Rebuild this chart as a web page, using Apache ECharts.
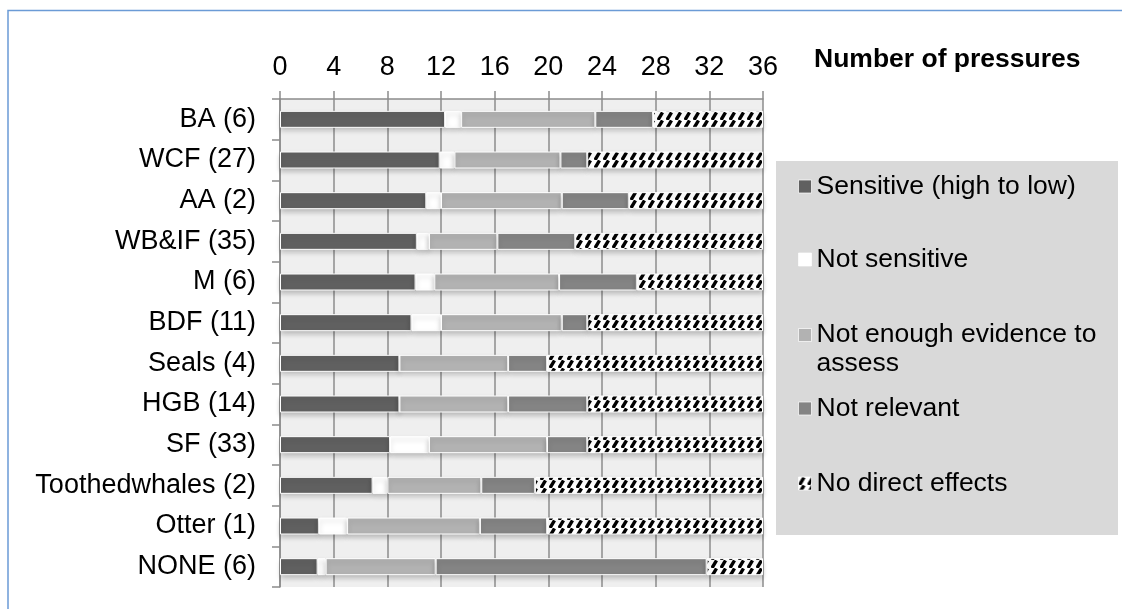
<!DOCTYPE html>
<html>
<head>
<meta charset="utf-8">
<script src="https://cdn.jsdelivr.net/npm/echarts@6/dist/echarts.min.js"></script>
<style>
  html, body { margin: 0; padding: 0; background: #fff; }
  #main { width: 1122px; height: 609px; }
</style>
</head>
<body>
<div id="main"></div>
<script>
// categories (top to bottom)
const groups = ['BA (6)', 'WCF (27)', 'AA (2)', 'WB&IF (35)', 'M (6)', 'BDF (11)', 'Seals (4)',
  'HGB (14)', 'SF (33)', 'Toothedwhales (2)', 'Otter (1)', 'NONE (6)'];

// average number of pressures per category
const sensitive    = [12.3, 11.9, 10.9, 10.2, 10.1, 9.8, 8.9, 8.9, 8.2, 6.9, 2.9, 2.8];
const notSensitive = [1.2, 1.1, 1.1, 0.9, 1.4, 2.2, 0, 0, 2.9, 1.1, 2.1, 0.6];
const notEnough    = [10.0, 7.9, 9.0, 5.1, 9.3, 9.0, 8.1, 8.1, 8.8, 7.0, 9.9, 8.2];
const notRelevant  = [4.3, 2.0, 5.0, 5.8, 5.8, 1.9, 2.9, 5.9, 3.0, 4.0, 5.0, 20.2];
const noDirect     = [8.2, 13.1, 10.0, 14.0, 9.4, 13.1, 16.1, 13.1, 13.1, 17.0, 16.1, 4.2];

const seriesNames = ['Sensitive (high to low)', 'Not sensitive', 'Not enough evidence to assess',
  'Not relevant', 'No direct effects'];

// hatch pattern for "No direct effects"
const tile = document.createElement('canvas');
tile.width = 9; tile.height = 8;
const g = tile.getContext('2d');
g.fillStyle = '#fff';
g.fillRect(0, 0, 9, 8);
g.strokeStyle = '#000';
g.lineWidth = 3.4;
g.beginPath();
g.moveTo(1, 8); g.lineTo(5.5, 0.5);
g.stroke();

const fills = ['#606060', '#ffffff', '#b2b2b2', '#848484', {image: tile, repeat: 'repeat'}];
const values = [sensitive, notSensitive, notEnough, notRelevant, noDirect];

let chart = echarts.init(document.getElementById('main'));

let mySeries = seriesNames.map((n, i) => ({
  name: n,
  type: 'bar',
  stack: 'all',
  barWidth: 17,
  data: values[i],
  itemStyle: {
    color: fills[i],
    borderColor: '#ffffff',
    borderWidth: 1,
    shadowColor: 'rgba(0,0,0,0.22)',
    shadowBlur: 5,
    shadowOffsetY: 3
  },
  emphasis: { disabled: true }
}));

// one legend per entry so each row sits where the original puts it
const squareIcon = 'path://M0,0H13V13H0Z';
const topSquareIcon = 'path://M0,0H13V13H0Z M0,42L0.01,42';
const legendTops = [172, 245, 320.5, 394, 469];
let legends = seriesNames.map((n, i) => ({
  data: [{ name: n, icon: i === 2 ? topSquareIcon : squareIcon }],
  orient: 'vertical',
  left: 798,
  top: legendTops[i],
  padding: 0,
  itemWidth: 13,
  itemHeight: i === 2 ? 42 : 13,
  selectedMode: false,
  itemStyle: { borderColor: 'rgba(255,255,255,0.7)', borderWidth: 1, shadowBlur: 0 },
  formatter: s => s === 'Not enough evidence to assess' ? 'Not enough evidence to\nassess' : s,
  textStyle: {
    fontFamily: 'Liberation Sans, Arial, sans-serif',
    fontSize: 26.5,
    color: '#000',
    lineHeight: 29
  }
}));

const option = {
  animation: false,
  title: {
    text: 'Number of pressures',
    left: 814,
    top: 46,
    padding: 0,
    textStyle: {
      fontFamily: 'Liberation Sans, Arial, sans-serif',
      fontSize: 26.5,
      fontWeight: 'bold',
      color: '#000'
    }
  },
  legend: legends,
  graphic: [
    {
      type: 'rect',
      z: -10,
      shape: { x: 8, y: 10.5, width: 1200, height: 700 },
      style: { fill: 'none', stroke: '#6b9bd6', lineWidth: 1.5 }
    },
    {
      type: 'rect',
      z: -10,
      shape: { x: 776, y: 161, width: 342, height: 374 },
      style: { fill: '#d9d9d9' }
    }
  ],
  grid: {
    left: 280,
    right: 359,
    top: 99,
    bottom: 22,
    show: true,
    backgroundColor: '#efefef',
    borderWidth: 0
  },
  xAxis: {
    type: 'value',
    position: 'top',
    min: 0,
    max: 36,
    interval: 4,
    axisLine: { show: true, lineStyle: { color: '#8c8c8c', width: 1.5 } },
    axisTick: { show: true, length: 8, lineStyle: { color: '#8c8c8c', width: 1.5 } },
    splitLine: { show: true, lineStyle: { color: '#8c8c8c', width: 1.5 } },
    axisLabel: {
      margin: 18,
      fontFamily: 'Liberation Sans, Arial, sans-serif',
      fontSize: 27,
      color: '#000'
    }
  },
  yAxis: {
    type: 'category',
    inverse: true,
    data: groups,
    axisLine: { show: true, lineStyle: { color: '#8c8c8c', width: 1.5 } },
    axisTick: { show: true, length: 8, lineStyle: { color: '#8c8c8c', width: 1.5 } },
    splitLine: { show: false },
    axisLabel: {
      margin: 24,
      fontFamily: 'Liberation Sans, Arial, sans-serif',
      fontSize: 27,
      color: '#000'
    }
  },
  series: mySeries
};

chart.setOption(option);
</script>
</body>
</html>
